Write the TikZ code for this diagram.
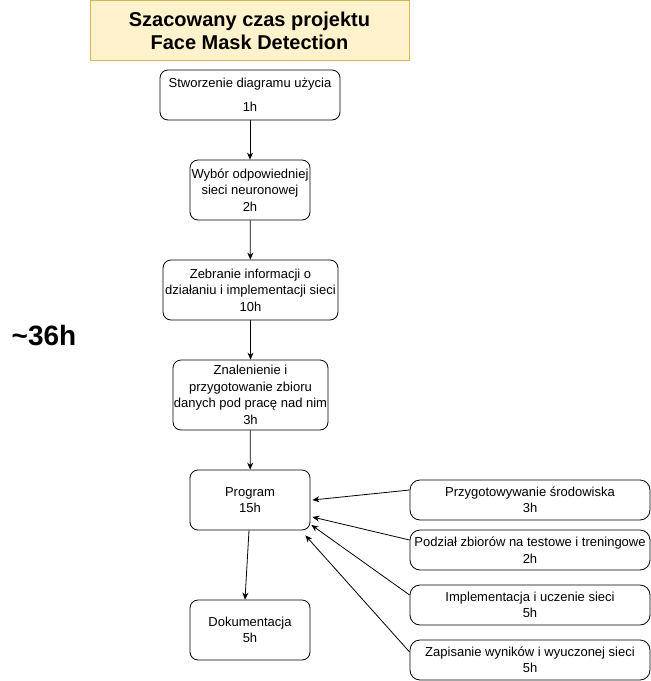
\documentclass[tikz,border=0pt]{standalone}
\usepackage{fontspec}
\setmainfont{Liberation Sans}
\usetikzlibrary{arrows.meta}
\definecolor{titlefill}{HTML}{FFF2CC}
\definecolor{titledraw}{HTML}{D6B656}

\begin{document}
\begin{tikzpicture}[x=1pt,y=-1pt,line width=0.8pt,
    every node/.style={align=center,inner sep=0pt,font=\fontsize{13}{16.5}\selectfont},
    task/.style={draw,rounded corners=8pt,minimum height=60pt},
    side/.style={draw,rounded corners=10pt,minimum width=240pt,minimum height=40pt},
    link/.style={-{Stealth[length=7pt,width=6pt]}}]
  \useasboundingbox (0,0) rectangle (651,681);
  \node[draw=titledraw,fill=titlefill,minimum width=319pt,minimum height=60pt,
        font=\fontsize{20}{23}\selectfont\bfseries] (title) at (249.5,30.5)
        {Szacowany czas projektu\\Face Mask Detection};
  \node[font=\fontsize{28}{32}\selectfont\bfseries] (total) at (44,336) {\textasciitilde36h};

  \node[task,minimum width=180pt,minimum height=50pt] (uml) at (250,95) {Stworzenie diagramu użycia\\[7pt]1h};
  \node[task,minimum width=120pt] (siec) at (250,190) {Wybór odpowiedniej\\sieci neuronowej\\2h};
  \node[task,minimum width=175pt] (info) at (250.5,290) {Zebranie informacji o\\działaniu i implementacji sieci\\10h};
  \node[task,minimum width=155pt,minimum height=70pt] (dane) at (250.5,395) {Znalenienie i\\przygotowanie zbioru\\danych pod pracę nad nim\\3h};
  \node[task,minimum width=120pt] (prog) at (250,500) {Program\\15h};
  \node[task,minimum width=120pt] (doc) at (250,630) {Dokumentacja\\5h};

  \node[side] (env) at (530,500) {Przygotowywanie środowiska\\3h};
  \node[side] (split) at (530,550) {Podział zbiorów na testowe i treningowe\\2h};
  \node[side] (train) at (530,605) {Implementacja i uczenie sieci\\5h};
  \node[side] (save) at (530,660) {Zapisanie wyników i wyuczonej sieci\\5h};

  \draw[link] (uml) -- (siec);
  \draw[link] (siec) -- (info);
  \draw[link] (info) -- (dane);
  \draw[link] (dane) -- (prog);
  \draw[link] ([xshift=-1pt]prog.south) -- ([xshift=-5pt]doc.north);

  \draw[link] ([yshift=10pt]env.west) -- ([xshift=2pt]prog.east);
  \draw[link] ([yshift=10pt]split.west) -- ([shift={(2pt,-17pt)}]prog.east);
  \draw[link] ([yshift=10pt]train.west) -- ([shift={(1pt,-25pt)}]prog.east);
  \draw[link] ([yshift=8pt]save.west) -- ([shift={(-5pt,-5pt)}]prog.south east);
\end{tikzpicture}
\end{document}
